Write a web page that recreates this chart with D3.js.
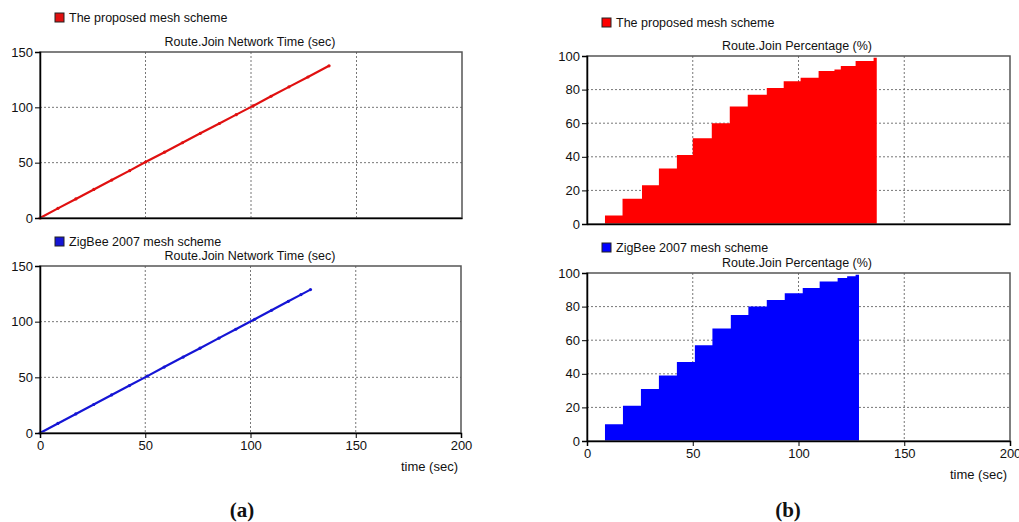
<!DOCTYPE html>
<html>
<head>
<meta charset="utf-8">
<script src="https://cdn.jsdelivr.net/npm/d3@7/dist/d3.min.js"></script>
<style>
  body { margin: 0; background: #fff; }
  svg text { font-family: "Liberation Sans", Arial, sans-serif; fill: #111; }
  .tick text { font-size: 13px; }
  .caption { font-family: "Liberation Serif", "DejaVu Serif", serif !important; font-weight: bold; font-size: 21px; }
</style>
</head>
<body>
<script>
"use strict"

// (a) Route.Join Network Time, line samples at each join event
const redNetTime = [0, 8.5, 17, 25.5, 34, 42.5, 50, 59, 67.5, 76, 85, 93, 101, 109.5, 118, 127, 137];
const redNetValue = [0, 8.7, 17.2, 25.8, 34.3, 42.8, 50.6, 59.5, 68, 76.5, 85.4, 93.4, 101.3, 110, 118.5, 127.4, 137.5];
const blueNetTime = [0, 8.5, 17, 25.5, 34, 42.5, 51, 59, 68, 76, 85, 93, 102, 110, 118, 124, 128.5];
const blueNetValue = [0, 8.6, 17.1, 25.6, 34.2, 42.6, 51.1, 59.2, 68.2, 76.2, 85.2, 93.2, 102.1, 110.2, 118.3, 124.3, 128.8];

// (b) Route.Join Percentage, step starts
const redPctTime = [8.5, 16.8, 26, 34, 42.5, 50, 59, 67.5, 76, 85, 93, 101, 109.5, 117, 120, 127, 135.5, 137];
const redPctValue = [5, 15, 23, 33, 41, 51, 60, 70, 77, 81, 85, 87, 91, 92, 94, 97, 99, 99];
const bluePctTime = [8.5, 17, 25.5, 34, 42.5, 51, 59.3, 68, 76.3, 85, 93.5, 102, 110, 118.5, 123, 127, 128.6];
const bluePctValue = [10, 21, 31, 39, 47, 57, 67, 75, 80, 84, 88, 91, 95, 97, 98, 99, 99];

const timeTicks = [0, 50, 100, 150, 200];
const netTicks = [0, 50, 100, 150];
const pctTicks = [0, 20, 40, 60, 80, 100];

const legendRed = 'The proposed mesh scheme';
const legendBlue = 'ZigBee 2007 mesh scheme';
const netTitle = 'Route.Join Network Time (sec)';
const pctTitle = 'Route.Join Percentage (%)';
const xLabel = 'time (sec)';

const w = 1019;
const h = 522;

const svg = d3.select('body')
	.append('svg')
	.attr('width', w)
	.attr('height', h);

function drawPanel(p) {
	const xScale = d3.scaleLinear().domain([0, 200]).range([p.left, p.right]);
	const yScale = d3.scaleLinear().domain([0, p.yMax]).range([p.bottom, p.top]);
	const g = svg.append('g');

	// dotted grid
	g.append('g')
		.selectAll('line')
		.data(timeTicks.slice(1, -1))
		.enter()
		.append('line')
		.attr('x1', d => xScale(d)).attr('x2', d => xScale(d))
		.attr('y1', p.top).attr('y2', p.bottom)
		.attr('stroke', '#777').attr('stroke-dasharray', '2,2');
	g.append('g')
		.selectAll('line')
		.data(p.yTicks.slice(1, -1))
		.enter()
		.append('line')
		.attr('x1', p.left).attr('x2', p.right)
		.attr('y1', d => yScale(d)).attr('y2', d => yScale(d))
		.attr('stroke', '#777').attr('stroke-dasharray', '2,2');

	const pts = p.time.map((t, i) => [t, p.value[i]]);
	if (p.kind === 'area') {
		const area = d3.area()
			.curve(d3.curveStepAfter)
			.x(d => xScale(d[0]))
			.y0(yScale(0))
			.y1(d => yScale(d[1]));
		g.append('path')
			.datum(pts)
			.attr('d', area)
			.attr('fill', p.color);
	} else {
		const line = d3.line()
			.x(d => xScale(d[0]))
			.y(d => yScale(d[1]));
		g.append('path')
			.datum(pts)
			.attr('d', line)
			.attr('fill', 'none')
			.attr('stroke', p.color)
			.attr('stroke-width', 2.2);
		// small join markers along the line
		g.append('g')
			.selectAll('circle')
			.data(pts)
			.enter()
			.append('circle')
			.attr('cx', d => xScale(d[0]))
			.attr('cy', d => yScale(d[1]))
			.attr('r', 1.6)
			.attr('fill', p.color);
	}

	// frame
	g.append('rect')
		.attr('x', p.left).attr('y', p.top)
		.attr('width', p.right - p.left).attr('height', p.bottom - p.top)
		.attr('fill', 'none').attr('stroke', '#555').attr('stroke-width', 1.5);

	const yAxis = d3.axisLeft(yScale).tickValues(p.yTicks).tickSize(5).tickPadding(2);
	g.append('g')
		.attr('transform', 'translate(' + p.left + ',0)')
		.call(yAxis)
		.call(a => a.select('.domain').attr('stroke', '#000').attr('stroke-width', 1.5));

	const xAxis = d3.axisBottom(xScale).tickValues(timeTicks).tickSize(p.showX ? 5 : 0).tickPadding(3);
	if (!p.showX) xAxis.tickFormat('');
	g.append('g')
		.attr('transform', 'translate(0,' + p.bottom + ')')
		.call(xAxis)
		.call(a => a.select('.domain').attr('stroke', '#000').attr('stroke-width', 1.5));

	if (p.showX) {
		g.append('text')
			.attr('x', p.right - 3).attr('y', p.bottom + 38)
			.attr('text-anchor', 'end')
			.style('font-size', '13px')
			.text(xLabel);
	}

	// title and legend
	g.append('text')
		.attr('x', p.titleX).attr('y', p.top - 6)
		.attr('text-anchor', 'middle')
		.style('font-size', '12.5px')
		.text(p.title);
	g.append('rect')
		.attr('x', p.legendX).attr('y', p.legendY)
		.attr('width', 9).attr('height', 9)
		.attr('fill', p.color).attr('stroke', '#222');
	g.append('text')
		.attr('x', p.legendX + 14).attr('y', p.legendY + 9)
		.style('font-size', '12.5px')
		.text(p.legend);
}

drawPanel({ kind: 'line', time: redNetTime, value: redNetValue, color: '#e01010',
	left: 40, right: 462, top: 52, bottom: 218, yMax: 150, yTicks: netTicks, showX: false,
	title: netTitle, titleX: 250, legend: legendRed, legendX: 55, legendY: 13 });
drawPanel({ kind: 'line', time: blueNetTime, value: blueNetValue, color: '#1515d5',
	left: 40, right: 461, top: 266, bottom: 433, yMax: 150, yTicks: netTicks, showX: true,
	title: netTitle, titleX: 250, legend: legendBlue, legendX: 55, legendY: 237 });
drawPanel({ kind: 'area', time: redPctTime, value: redPctValue, color: '#ff0000',
	left: 587, right: 1010, top: 56, bottom: 224, yMax: 100, yTicks: pctTicks, showX: false,
	title: pctTitle, titleX: 797, legend: legendRed, legendX: 602, legendY: 18 });
drawPanel({ kind: 'area', time: bluePctTime, value: bluePctValue, color: '#0000ff',
	left: 587, right: 1010, top: 273, bottom: 441, yMax: 100, yTicks: pctTicks, showX: true,
	title: pctTitle, titleX: 797, legend: legendBlue, legendX: 602, legendY: 243 });

svg.append('text').attr('class', 'caption')
	.attr('x', 242).attr('y', 517).attr('text-anchor', 'middle').text('(a)');
svg.append('text').attr('class', 'caption')
	.attr('x', 788).attr('y', 517).attr('text-anchor', 'middle').text('(b)');
</script>
</body>
</html>
